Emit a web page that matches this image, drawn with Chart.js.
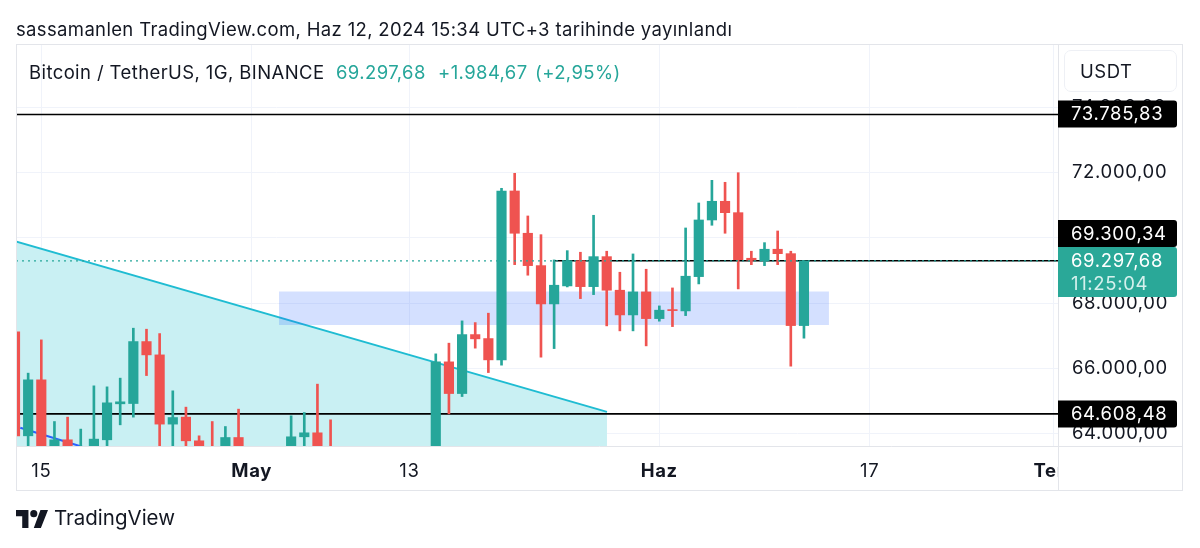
<!DOCTYPE html>
<html>
<head>
<meta charset="utf-8">
<title>BTC/USDT</title>
<script src="https://cdn.jsdelivr.net/npm/chart.js@4/dist/chart.umd.min.js"></script>
<style>
  body { margin: 0; background: #fff; font-family: Inter, sans-serif; color: #131722; }
  #wrap { position: relative; width: 1200px; height: 548px; overflow: hidden; }
  canvas { position: absolute; left: 0; top: 0; }
  .txt { position: absolute; white-space: nowrap; line-height: 24px; }
  #published { left: 16px; top: 17px; font-size: 18.5px; letter-spacing: 0.35px; }
  #symbol { left: 29px; top: 60px; font-size: 18.5px; letter-spacing: 0.4px; }
  .quote { top: 60px; font-size: 18.5px; letter-spacing: 0.4px; color: #26a69a; }
  #unit { left: 1064px; top: 50px; width: 111px; height: 40px; border: 1px solid #eef0f5; border-radius: 7px; font-size: 18.5px; letter-spacing: 0.5px; line-height: 40px; text-indent: 15px; }
  #brand { left: 54px; top: 506px; font-size: 20.5px; }
  #logo { position: absolute; left: 16px; top: 510px; }
</style>
</head>
<body>
<div id="wrap">
  <canvas id="chart" width="1200" height="548"></canvas>
  <div class="txt" id="published">sassamanlen TradingView.com, Haz 12, 2024 15:34 UTC+3 tarihinde yayınlandı</div>
  <div class="txt" id="symbol">Bitcoin / TetherUS, 1G, BINANCE</div>
  <div class="txt quote" style="left:336px">69.297,68</div>
  <div class="txt quote" style="left:438px">+1.984,67</div>
  <div class="txt quote" style="left:535px">(+2,95%)</div>
  <div class="txt" id="unit">USDT</div>
  <svg id="logo" width="32" height="18" viewBox="0 0 36 20"><path fill="#131722" d="M14 20H7V7H0V0h14zM28 20h-8l7.5-20H36z"/><circle fill="#131722" cx="20" cy="4" r="4"/></svg>
  <div class="txt" id="brand">TradingView</div>
</div>
<script>
// day number counted from 15 Apr, only the candles that show above the time axis
const days   = [-2,-1,0,1,2,3,4,5,6,7,8,9,10,11,12,13,14,15,19,20,21,22,30,31,32,33,34,35,36,37,38,39,40,41,42,43,44,45,46,47,48,49,50,51,52,53,54,55,56,57,58];
const opens  = [67121,63935,65651,63000,63813,63100,63000,63813,64916,64925,66824,66416,64294,64508,63782,63300,63200,63883,63200,63905,64027,63300,62900,66202,65231,67038,66916,66263,71440,70144,69152,67978,68530,69305,68508,69427,68398,67641,68346,67528,67804,67764,68815,70551,71124,70775,69378,69296,69654,69519,67314];
const highs  = [67121,65856,66876,64373,64508,64141,65467,65436,65703,67234,67203,67069,65314,64814,63935,64373,64220,64753,64548,64649,65519,64425,66447,66775,67458,67406,67694,71522,71982,70674,70101,69326,69611,69562,70695,69593,68949,69510,69041,67917,68468,70306,71072,71767,71706,72000,69593,69856,70214,69593,69300];
const lows   = [63935,63400,62800,62800,62800,62900,62800,63300,64272,64508,65782,63300,63300,63500,63000,62800,63000,63000,63000,63400,63000,62800,62600,64609,65139,66622,65874,66101,69182,68858,66346,66609,68499,68141,68263,67305,67152,67152,66692,67449,67283,67620,68591,70389,70144,68438,69182,69152,69182,66070,66928];
const closes = [63935,65651,63000,63813,63000,63400,63834,64946,64977,66824,66416,64294,64496,63782,63300,63000,63883,63200,63905,64027,63200,63000,66202,65231,67038,66907,66263,71440,70144,69152,67978,68551,69305,68508,69427,68398,67641,68346,67528,67786,67773,68827,70551,71124,70775,69335,69317,69654,69519,67314,69297.68];

const timeTicks  = [0, 16, 28, 47, 63, 77];
const timeLabels = ["15", "May", "13", "Haz", "17", "Tem"];
const boldLabels = ["May", "Haz", "Tem"];
const priceTicks  = [64000, 66000, 68000, 70000, 72000, 74000];
const priceLabels = ["64.000,00", "66.000,00", "68.000,00", "70.000,00", "72.000,00", "74.000,00"];

// drawings on the chart
const wedgeX = [-2, 43.02];
const wedgeY = [69900, 64670];
const trendX = [-1.6, 3.1];
const trendY = [64180, 63600];
const zoneX = [18.08, 59.9];
const zoneHigh = 68361;
const zoneLow = 67335;
const levelValues = [73785.83, 69300.34, 64608.48];
const levelLabels = ["73.785,83", "69.300,34", "64.608,48"];
const levelStart = [-2, 39, -2];
const lastPrice = 69297.68;
const lastLabel = "69.297,68";
const countdown = "11:25:04";

const xMin = -1.924, xMax = 77.32;
const up = "#26a69a", down = "#ef5350";
const colors = closes.map((c, i) => c >= opens[i] ? up : down);

function lineSet(xs, ys, color, width, order, extra) {
  return Object.assign({
    type: "line",
    data: xs.map((x, i) => ({ x: x, y: ys[i] })),
    borderColor: color,
    borderWidth: width,
    pointRadius: 0,
    tension: 0,
    fill: false,
    order: order
  }, extra || {});
}

const datasets = [
  lineSet(wedgeX, wedgeY, "#1fbcd2", 2, 9, { fill: "start", backgroundColor: "#c9f0f3" }),
  lineSet(trendX, trendY, "#2962ff", 2, 8),
  lineSet(zoneX, [zoneHigh, zoneHigh], "rgba(0,0,0,0)", 0, 7),
  lineSet(zoneX, [zoneLow, zoneLow], "rgba(0,0,0,0)", 0, 7, { fill: "-1", backgroundColor: "rgba(41,98,255,0.2)" })
];
levelValues.forEach((v, i) => {
  datasets.push(lineSet([levelStart[i], xMax], [v, v], "#000", 1.6, 6));
});
datasets.push({
  data: days.map((d, i) => ({ x: d, y: [lows[i], highs[i]] })),
  backgroundColor: colors,
  barThickness: 2,
  grouped: false,
  order: 5
});
datasets.push({
  data: days.map((d, i) => ({ x: d, y: [opens[i], closes[i]] })),
  backgroundColor: colors,
  barThickness: 9.5,
  grouped: false,
  order: 4
});
datasets.push(lineSet([xMin, xMax], [lastPrice, lastPrice], up, 1.2, 1, { borderDash: [2, 4] }));

const gridColor = "#f0f3fa";
const frameColor = "#e3e5ea";

// price tags on the right axis, the panel border and the clipped time label
const panelPlugin = {
  id: "panel",
  beforeDraw(chart) {
    chart.ctx.letterSpacing = "0.65px";
  },
  afterDraw(chart) {
    const c = chart.ctx, a = chart.chartArea, y = chart.scales.y;
    c.save();
    c.fillStyle = "#fff";
    c.fillRect(a.right, a.bottom + 1, 125, 44);
    c.strokeStyle = frameColor;
    c.lineWidth = 1;
    c.strokeRect(16.5, 44.5, 1166, 446);
    c.beginPath();
    c.moveTo(a.right + 0.5, 44); c.lineTo(a.right + 0.5, 491);
    c.moveTo(16, a.bottom + 0.5); c.lineTo(1183, a.bottom + 0.5);
    c.stroke();

    c.font = "18.5px Inter";
    c.textBaseline = "middle";
    c.textAlign = "left";
    const ly = Math.round(y.getPixelForValue(lastPrice));
    levelValues.forEach((v, i) => {
      let py = Math.round(y.getPixelForValue(v));
      // two tags at the same price: the level tag sits on top of the last price tag
      if (Math.abs(py - ly) < 27) py = ly - 27.5;
      c.fillStyle = "#000";
      c.beginPath();
      c.roundRect(a.right, py - 13.5, 119, 27, [0, 3, 3, 0]);
      c.fill();
      c.fillStyle = "#fff";
      c.fillText(levelLabels[i], 1071, py + 0.5);
    });
    c.fillStyle = "#2aa898";
    c.beginPath();
    c.roundRect(a.right, ly - 14, 119, 50, [0, 3, 3, 0]);
    c.fill();
    c.fillStyle = "#fff";
    c.fillText(lastLabel, 1071, ly);
    c.fillStyle = "#d5f1ed";
    c.fillText(countdown, 1071, ly + 23);
    c.restore();
  }
};

new Chart(document.getElementById("chart"), {
  type: "bar",
  data: { datasets: datasets },
  plugins: [panelPlugin],
  options: {
    responsive: false,
    animation: false,
    devicePixelRatio: 1,
    layout: { padding: { left: 16, top: 44, right: 17, bottom: 57 } },
    plugins: { legend: { display: false }, tooltip: { enabled: false } },
    scales: {
      x: {
        type: "linear",
        offset: false,
        min: xMin,
        max: xMax,
        afterBuildTicks(scale) { scale.ticks = timeTicks.map(v => ({ value: v })); },
        afterFit(scale) { scale.height = 45; },
        grid: { color: gridColor, offset: false, drawTicks: false },
        border: { display: false },
        ticks: {
          autoSkip: false,
          maxRotation: 0,
          padding: 14,
          color: "#131722",
          callback: v => timeLabels[timeTicks.indexOf(v)],
          font: ctx => ({ family: "Inter", size: 18.5, weight: boldLabels.includes(ctx.tick && ctx.tick.label) ? "bold" : "normal" })
        }
      },
      y: {
        type: "linear",
        position: "right",
        min: 63623,
        max: 75945,
        afterBuildTicks(scale) { scale.ticks = priceTicks.map(v => ({ value: v })); },
        afterFit(scale) { scale.width = 125; },
        grid: { color: gridColor, drawTicks: false },
        border: { display: false },
        ticks: {
          padding: 14,
          color: "#131722",
          callback: v => priceLabels[priceTicks.indexOf(v)],
          font: { family: "Inter", size: 18.5 }
        }
      }
    }
  }
});
</script>
</body>
</html>
